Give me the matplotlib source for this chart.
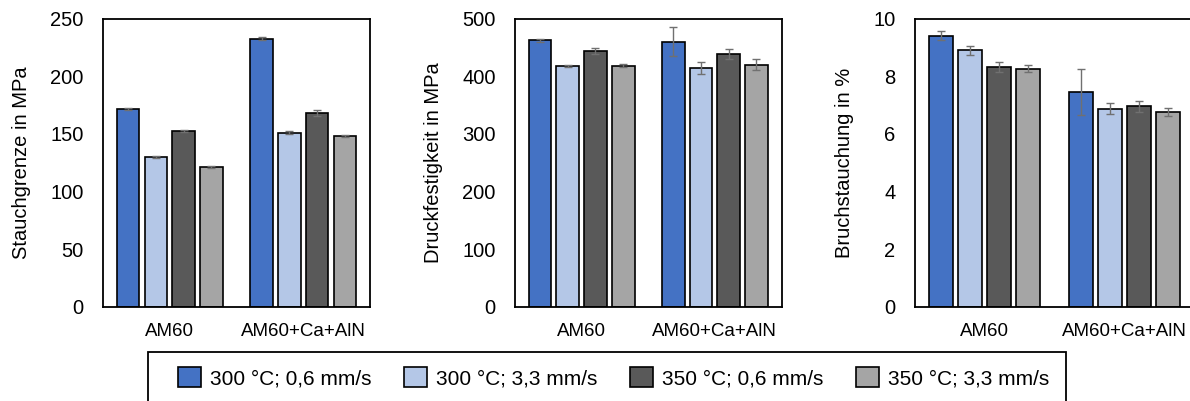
import matplotlib
matplotlib.use("Agg")
import matplotlib.pyplot as plt
from matplotlib.patches import Rectangle
import numpy as np

plt.rcParams['font.family'] = ['Liberation Sans', 'DejaVu Sans']

groups = ['AM60', 'AM60+Ca+AlN']
series = ['300 °C; 0,6 mm/s', '300 °C; 3,3 mm/s', '350 °C; 0,6 mm/s', '350 °C; 3,3 mm/s']
colors = ['#4472C4', '#B4C7E7', '#595959', '#A5A5A5']

# values per series: [AM60, AM60+Ca+AlN]
stauch = [[171.5, 232.5], [130.0, 151.0], [152.5, 168.0], [121.5, 148.0]]
stauch_err = [[1.0, 1.5], [1.0, 1.0], [1.0, 3.0], [0.8, 0.8]]
druck = [[462, 460], [418, 414], [443, 438], [418, 420]]
druck_err = [[3, 25], [2, 11], [5, 9], [3, 10]]
bruch = [[9.4, 7.45], [8.9, 6.87], [8.32, 6.95], [8.25, 6.76]]
bruch_err = [[0.15, 0.8], [0.15, 0.2], [0.18, 0.2], [0.12, 0.15]]

panels = [
    (stauch, stauch_err, 'Stauchgrenze in MPa', 250, 50),
    (druck, druck_err, 'Druckfestigkeit in MPa', 500, 100),
    (bruch, bruch_err, 'Bruchstauchung in %', 10, 2),
]

W, H = 1190, 401
fig = plt.figure(figsize=(W / 100, H / 100), dpi=100)

# axes boxes in pixels: left, right
boxes = [(103, 370), (515, 781.5), (915, 1194)]
top_px, bot_px = 18.5, 306.7

x = np.arange(len(groups))
step = 0.208
width = 0.17

for (vals, errs, ylabel, ymax, ystep), (l, r) in zip(panels, boxes):
    ax = fig.add_axes([l / W, 1 - bot_px / H, (r - l) / W, (bot_px - top_px) / H])
    for i in range(len(series)):
        ax.bar(x + (i - 1.5) * step, vals[i], width, color=colors[i],
               edgecolor='black', linewidth=1.2, label=series[i], zorder=2)
        ax.errorbar(x + (i - 1.5) * step, vals[i], yerr=errs[i], fmt='none',
                    ecolor='#707070', elinewidth=1.0, capsize=3, capthick=1.0, zorder=3)
    ax.set_xlim(-0.5, 1.5)
    ax.set_ylim(0, ymax)
    ax.set_yticks(np.arange(0, ymax + ystep / 2, ystep))
    ax.set_xticks(x)
    ax.set_xticklabels(groups)
    ax.tick_params(axis='both', length=0, colors='black')
    ax.tick_params(axis='x', pad=12, labelsize=13.5)
    ax.tick_params(axis='y', pad=14, labelsize=14.5)
    ax.set_ylabel(ylabel, fontsize=14.5, labelpad=14)
    for s in ax.spines.values():
        s.set_linewidth(1.3)

# legend frame drawn by hand (Excel-style, runs off the bottom edge)
fig.patches.append(Rectangle((148 / W, -0.05), (1066 - 148) / W, 0.05 + 1 - 352 / H,
                             transform=fig.transFigure, fill=False,
                             edgecolor='black', linewidth=1.3))

handles, labels = ax.get_legend_handles_labels()
leg = fig.legend(handles, labels, loc='center left', ncol=4,
                 bbox_to_anchor=(163 / W, 1 - 378 / H), fontsize=15,
                 frameon=False, handlelength=1.1, handleheight=1.1,
                 handletextpad=0.45, columnspacing=1.55, borderpad=0.2)

fig.savefig('out.png', dpi=100)
